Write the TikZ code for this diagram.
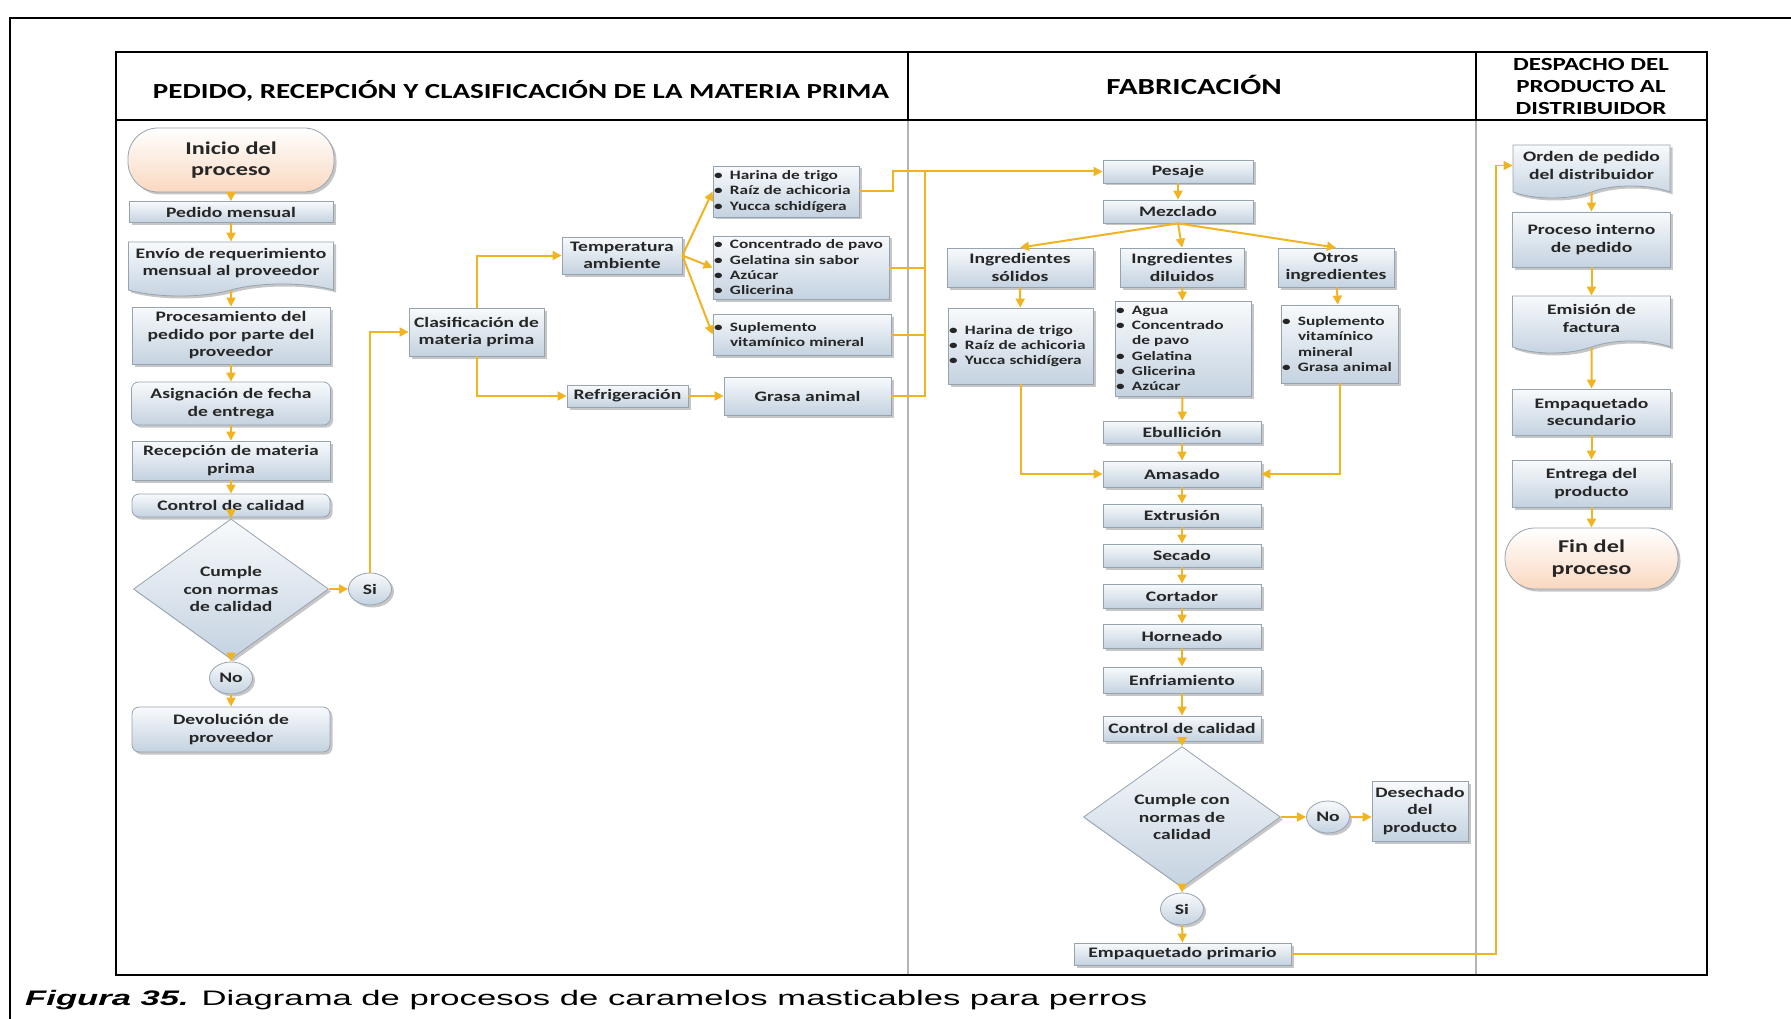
\documentclass[tikz,border=0pt]{standalone}
\usepackage{fontspec}
\setmainfont{Carlito}
\newfontfamily\bx[FakeStretch=1.35]{Carlito}
\newfontfamily\capf[FakeStretch=1.65]{Liberation Sans}
\usetikzlibrary{shapes.geometric,shapes.symbols,shadows,arrows.meta}
\definecolor{arrowc}{RGB}{240,180,35}
\definecolor{boxtop}{RGB}{248,250,252}
\definecolor{boxbot}{RGB}{196,210,224}
\definecolor{boxline}{RGB}{150,163,176}
\definecolor{peach}{RGB}{250,216,192}
\definecolor{lanegray}{RGB}{180,180,180}
\definecolor{txt}{RGB}{38,38,38}
\newcommand\itm{\makebox[16pt][l]{\textbullet}}
\newcommand\ind{\hspace*{16pt}}
\tikzset{
  box/.style={draw=boxline, line width=0.8pt, top color=boxtop, bottom color=boxbot,
    drop shadow={shadow xshift=2.5pt, shadow yshift=-2.5pt, opacity=0.45},
    align=center, text=txt, inner sep=1pt,
    font=\bx\bfseries\fontsize{14.5}{17.5}\selectfont},
  sz/.style 2 args={minimum width=#1pt, minimum height=#2pt},
  rbox/.style={box, rounded corners=7pt},
  term/.style={box, rounded corners=30pt, top color=white, bottom color=peach,
    font=\bx\bfseries\fontsize{18}{21.5}\selectfont},
  doc/.style={box, tape, tape bend top=none, tape bend height=12pt},
  dec/.style={box, diamond, inner sep=0pt},
  yn/.style={box, ellipse, inner sep=0pt, minimum width=43pt, minimum height=32pt},
  lst/.style 2 args={box, align=left, text width=#1pt, minimum height=#2pt, inner xsep=1pt,
    font=\bx\bfseries\fontsize{12.8}{15.3}\selectfont},
  arr/.style={draw=arrowc, line width=2pt, -{Triangle[length=9pt,width=9pt]}},
  lin/.style={draw=arrowc, line width=2pt},
  head/.style={align=center, font=\bx\bfseries\fontsize{21.5}{26}\selectfont}
}
\begin{document}
\begin{tikzpicture}[x=1pt, y=-1pt]
  \useasboundingbox (0,0) rectangle (1791,1019);
  % frame and lanes
  \draw[line width=1.5pt] (10,1019) -- (10,18) -- (1791,18);
  \draw[lanegray, line width=2.5pt] (908,120) -- (908,975) (1476,120) -- (1476,975);
  \draw[line width=2.5pt] (116,52) rectangle (1707,975)
    (116,120) -- (1707,120) (908,52) -- (908,120) (1476,52) -- (1476,120);
  \node[head] (h1) at (521,91) {PEDIDO, RECEPCIÓN Y CLASIFICACIÓN DE LA MATERIA PRIMA};
  \node[head, font=\bx\bfseries\fontsize{23}{26}\selectfont] (h2) at (1194,85) {FABRICACIÓN};
  \node[head, font=\bx\bfseries\fontsize{18.5}{22}\selectfont] (h3) at (1591,87)
    {DESPACHO DEL\\PRODUCTO AL\\DISTRIBUIDOR};
  \node[anchor=base west, inner sep=0pt, font=\capf\fontsize{21}{25}\selectfont] (cap) at (25,1005)
    {\textbf{\textit{Figura 35.}} Diagrama de procesos de caramelos masticables para perros};

  % pedido, recepcion y clasificacion
  \node[term, sz={206}{64}] (a1) at (231,160) {Inicio del\\proceso};
  \node[box, sz={204}{21}] (a2) at (231,212) {Pedido mensual};
  \node[doc, sz={205}{54}] (a3) at (231,263) {Envío de requerimiento\\mensual al proveedor};
  \node[box, sz={198}{57}] (a4) at (231,335.5) {Procesamiento del\\pedido por parte del\\proveedor};
  \node[rbox, sz={199}{43}] (a5) at (231,403.5) {Asignación de fecha\\de entrega};
  \node[box, sz={198}{39}] (a6) at (231,460.5) {Recepción de materia\\prima};
  \node[rbox, sz={198}{23}] (a7) at (231,505.5) {Control de calidad};
  \node[dec, sz={195}{106}] (a8) at (231,589) {Cumple\\con normas\\de calidad};
  \node[yn] (a9) at (370,589) {Si};
  \node[yn] (a10) at (231,678) {No};
  \node[rbox, sz={198}{45}] (a11) at (231,729.5) {Devolución de\\proveedor};
  \node[box, sz={135}{48}] (a12) at (476.5,332) {Clasificación de\\materia prima};
  \node[box, sz={120}{37}] (a13) at (622,255.5) {Temperatura\\ambiente};
  \node[box, sz={121}{22}] (a14) at (627.5,396) {Refrigeración};
  \node[lst={144}{51}] (a15) at (786,191.5)
    {\itm Harina de trigo\\\itm Raíz de achicoria\\\itm Yucca schidígera};
  \node[lst={174}{63}] (a16) at (801,267.5)
    {\itm Concentrado de pavo\\\itm Gelatina sin sabor\\\itm Azúcar\\\itm Glicerina};
  \node[lst={176}{41}] (a17) at (802,334.5) {\itm Suplemento\\\ind vitamínico mineral};
  \node[box, sz={167}{38}] (a18) at (807.5,396) {Grasa animal};

  % fabricacion
  \node[box, sz={150}{23}] (b1) at (1178,171.5) {Pesaje};
  \node[box, sz={150}{23}] (b2) at (1178,211.5) {Mezclado};
  \node[box, sz={146}{39}] (b3) at (1020,267.5) {Ingredientes\\sólidos};
  \node[box, sz={124}{39}] (b4) at (1182,267.5) {Ingredientes\\diluidos};
  \node[box, sz={116}{39}] (b5) at (1336,267.5) {Otros\\ingredientes};
  \node[lst={143}{76}] (b6) at (1020.5,346)
    {\itm Harina de trigo\\\itm Raíz de achicoria\\\itm Yucca schidígera};
  \node[lst={134}{95}] (b7) at (1183,348.5)
    {\itm Agua\\\itm Concentrado\\\ind de pavo\\\itm Gelatina\\\itm Glicerina\\\itm Azúcar};
  \node[lst={115}{78}] (b8) at (1339.5,344)
    {\itm Suplemento\\\ind vitamínico\\\ind mineral\\\itm Grasa animal};
  \node[box, sz={158}{22}] (b9) at (1182,432) {Ebullición};
  \node[box, sz={158}{26}] (b10) at (1182,474) {Amasado};
  \node[box, sz={158}{23}] (b11) at (1182,515.5) {Extrusión};
  \node[box, sz={158}{23}] (b12) at (1182,555.5) {Secado};
  \node[box, sz={158}{24}] (b13) at (1182,596) {Cortador};
  \node[box, sz={158}{24}] (b14) at (1182,636) {Horneado};
  \node[box, sz={158}{26}] (b15) at (1182,680) {Enfriamiento};
  \node[box, sz={158}{25}] (b16) at (1182,728.5) {Control de calidad};
  \node[dec, sz={197}{118}] (b17) at (1182,817) {Cumple con\\normas de\\calidad};
  \node[yn] (b18) at (1328,817) {No};
  \node[box, sz={96}{60}] (b19) at (1420,811) {Desechado\\del\\producto};
  \node[yn] (b20) at (1182,909) {Si};
  \node[box, sz={217}{22}] (b21) at (1182.5,954) {Empaquetado primario};

  % despacho
  \node[doc, sz={157}{53}] (c1) at (1591.5,165.5) {Orden de pedido\\del distribuidor};
  \node[box, sz={158}{55}] (c2) at (1591.5,239.5) {Proceso interno\\de pedido};
  \node[doc, sz={158}{57}] (c3) at (1591.5,318.5) {Emisión de\\factura};
  \node[box, sz={158}{46}] (c4) at (1591.5,412) {Empaquetado\\secundario};
  \node[box, sz={158}{47}] (c5) at (1591.5,483.5) {Entrega del\\producto};
  \node[term, sz={173}{61}] (c6) at (1591.5,558.5) {Fin del\\proceso};

  \coordinate (bus) at (925,171.5);
  \coordinate (ret) at (1496,0);
  \draw[lin] (a16.east) -| (bus);
  \draw[lin] (a17.east) -| (bus);
  \draw[lin] (a18.east) -| (bus);
  \begin{scope}[arr]
    \draw (a1) to (a2);
    \draw (a2) to (a3);
    \draw (a3) to (a4);
    \draw (a4) to (a5);
    \draw (a5) to (a6);
    \draw (a6) to (a7);
    \draw (a7) to (a8);
    \draw (a8) to (a9);
    \draw (a8) to (a10);
    \draw (a10) to (a11);
    \draw (a9.north) |- (a12.west);
    \draw (a12.north) |- (a13.west);
    \draw (a12.south) |- (a14.west);
    \draw (a14) to (a18);
    \draw (a13.east) -- (a15.west);
    \draw (a13.east) -- (a16.west);
    \draw (a13.east) -- (a17.west);
    \draw (a15.east) -- ++(34,0) |- (b1.west);
    \draw (b1) to (b2);
    \draw (b2.south) -- (b3.north);
    \draw (b2.south) -- (b4.north);
    \draw (b2.south) -- (b5.north);
    \draw (b3) to (b6);
    \draw (b4) to (b7);
    \draw (b5) to (b8);
    \draw (b7) to (b9);
    \draw (b9) to (b10);
    \draw (b6.south) |- (b10.west);
    \draw (b8.south) |- (b10.east);
    \draw (b10) to (b11);
    \draw (b11) to (b12);
    \draw (b12) to (b13);
    \draw (b13) to (b14);
    \draw (b14) to (b15);
    \draw (b15) to (b16);
    \draw (b16) to (b17);
    \draw (b17) to (b18);
    \draw (b18.east) -- (b19.west |- b18.east);
    \draw (b17) to (b20);
    \draw (b20) to (b21);
    \draw[line width=1.3pt] (b21.east) -| (ret |- c1.west) -- (c1.west);
    \draw (c1) to (c2);
    \draw (c2) to (c3);
    \draw (c3) to (c4);
    \draw (c4) to (c5);
    \draw (c5) to (c6);
  \end{scope}
\end{tikzpicture}
\end{document}
